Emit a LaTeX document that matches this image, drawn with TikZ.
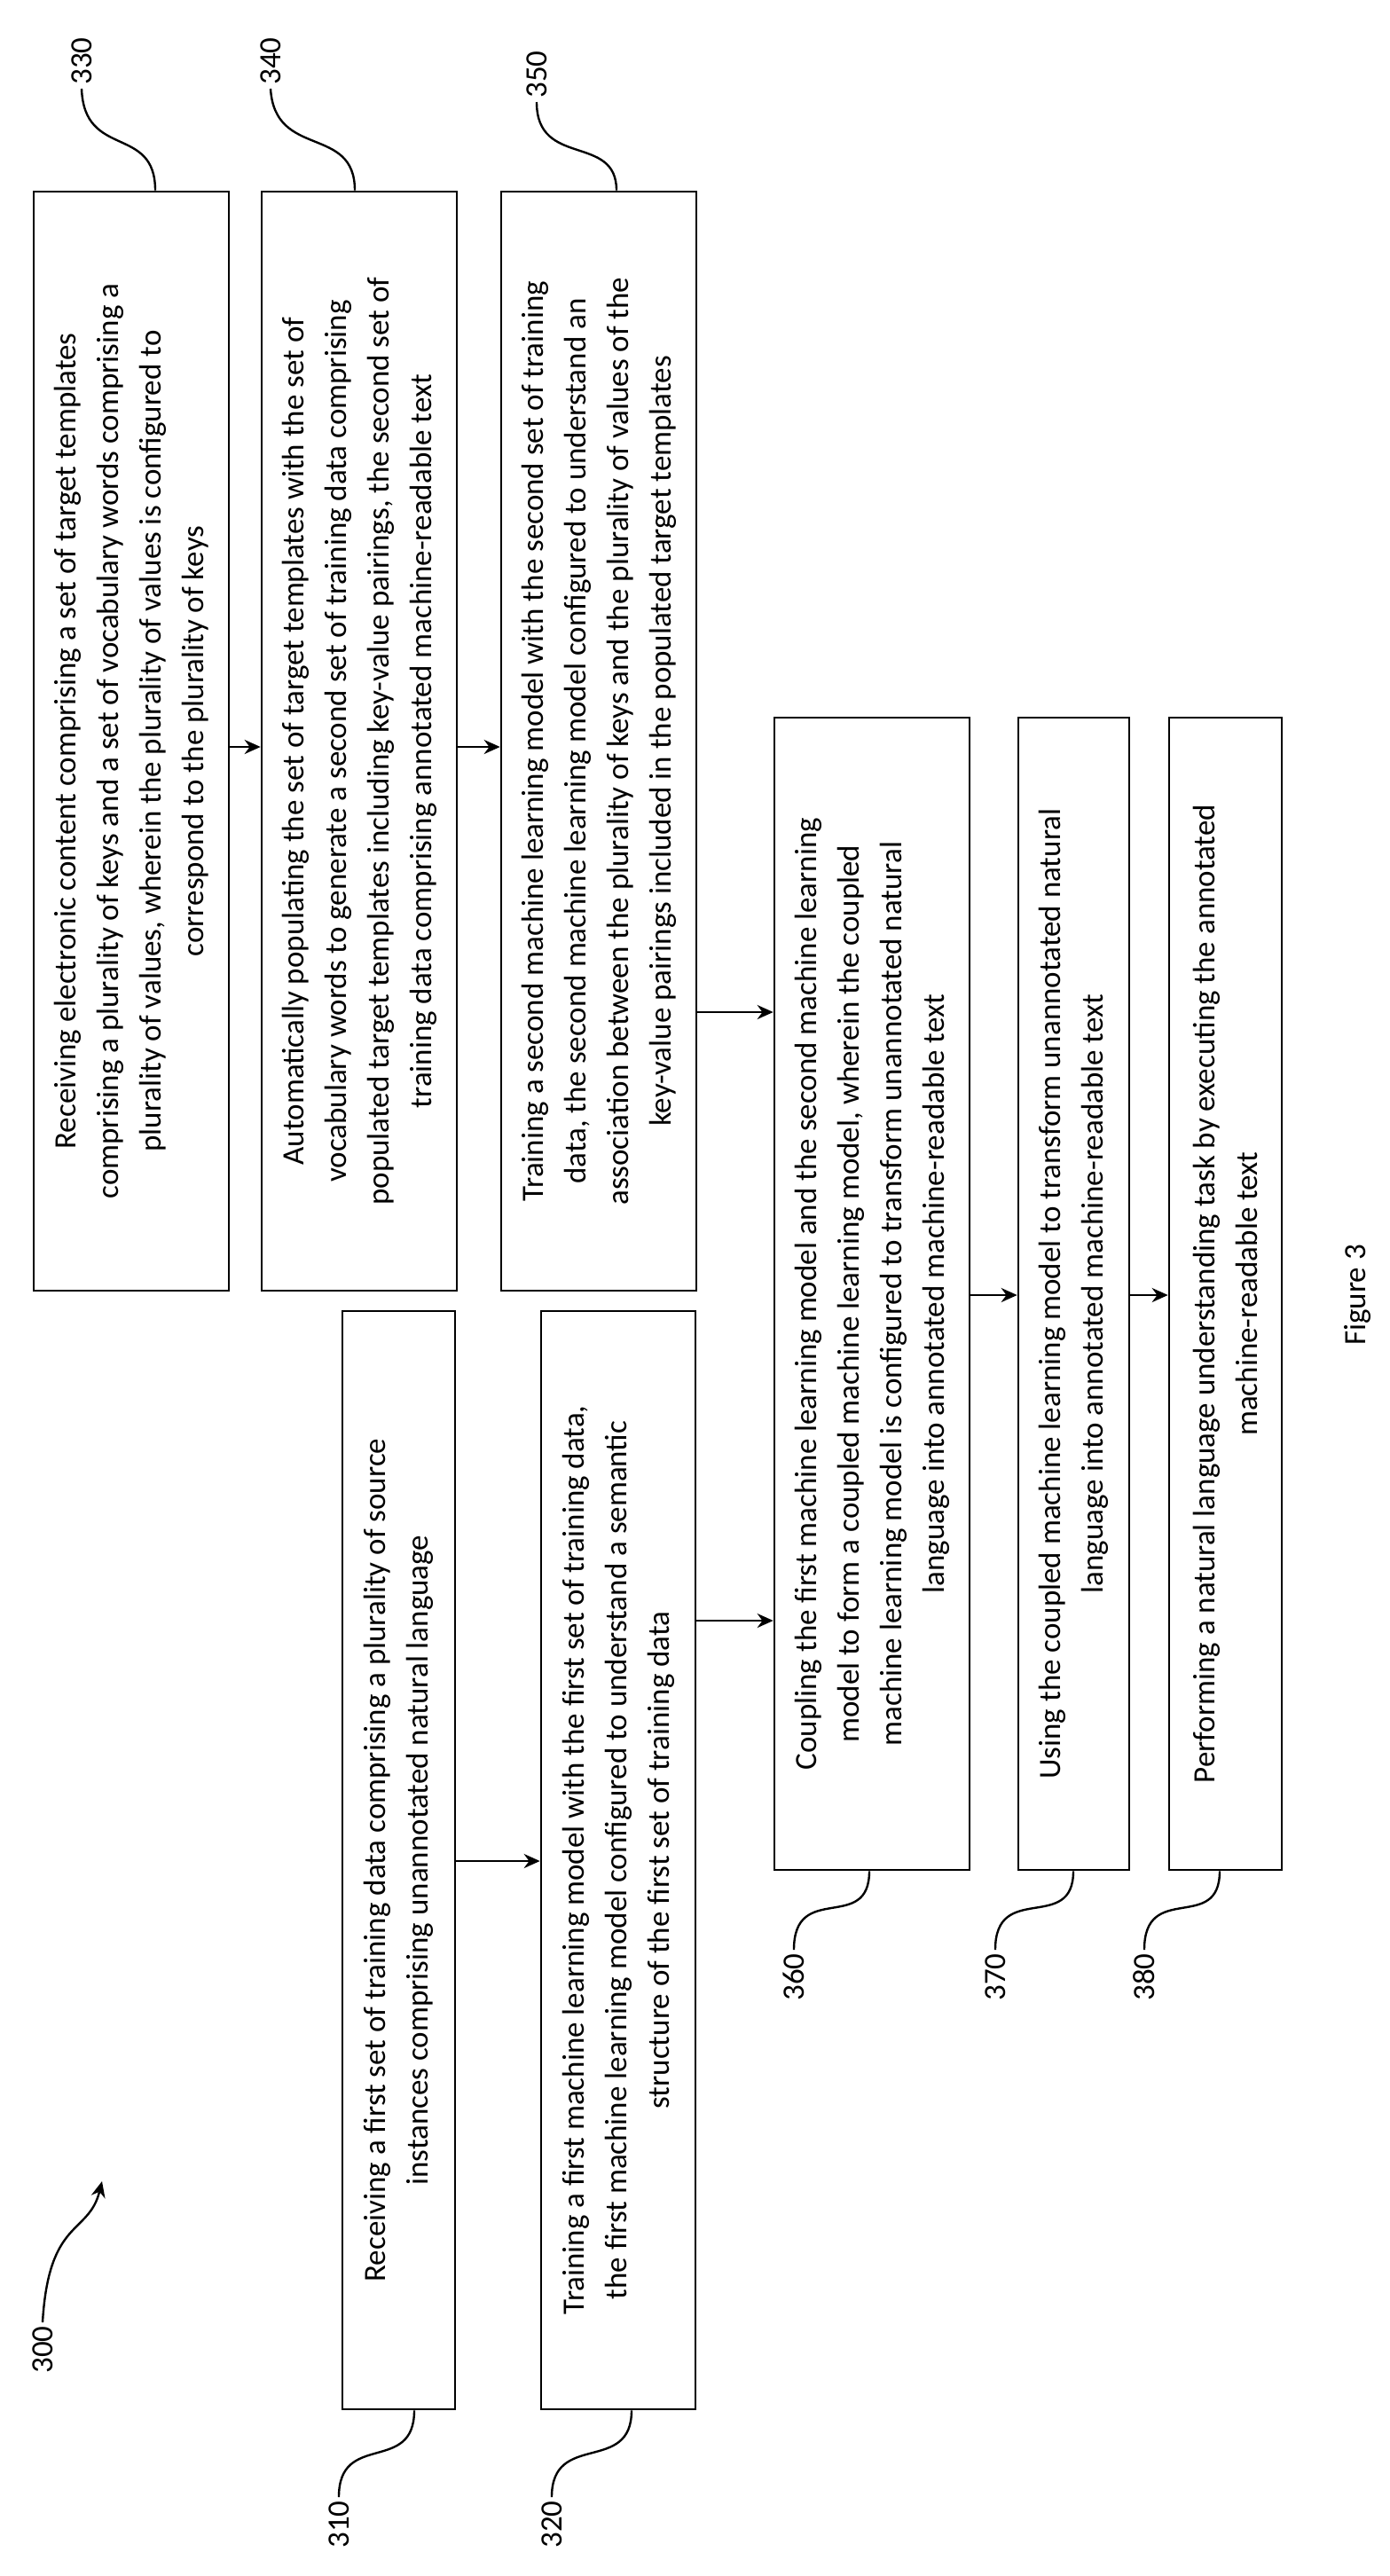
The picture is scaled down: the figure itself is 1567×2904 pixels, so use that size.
\documentclass[tikz,border=0pt]{standalone}
\usepackage{fontspec}
\setmainfont{Carlito}
\usetikzlibrary{arrows.meta}
\begin{document}
\begin{tikzpicture}[x=0.5pt,y=-0.5pt,
  box/.style={draw,line width=1.3pt,rotate=90,inner sep=0pt,align=center,font=\fontsize{17.5}{24}\selectfont},
  lab/.style={rotate=90,inner sep=2pt,font=\fontsize{17.5}{21}\selectfont},
  arr/.style={line width=1.3pt,-{Stealth[length=9pt,width=8pt]}},
  lead/.style={line width=1.2pt}]
\useasboundingbox (0,0) rectangle (1567,2904);
% boxes
\node[box,minimum width=619.5pt,minimum height=110pt] (n330) at (148,835.5) {Receiving electronic content comprising a set of target templates\\comprising a plurality of keys and a set of vocabulary words comprising a\\plurality of values, wherein the plurality of values is configured to\\correspond to the plurality of keys};
\node[box,minimum width=619.5pt,minimum height=110pt] (n340) at (405,835.5) {Automatically populating the set of target templates with the set of\\vocabulary words to generate a second set of training data comprising\\populated target templates including key-value pairings, the second set of\\training data comprising annotated machine-readable text};
\node[box,minimum width=619.5pt,minimum height=110pt] (n350) at (675,835.5) {Training a second machine learning model with the second set of training\\data, the second machine learning model configured to understand an\\association between the plurality of keys and the plurality of values of the\\key-value pairings included in the populated target templates};
\node[box,minimum width=619pt,minimum height=63.5pt] (n310) at (449.5,2097) {Receiving a first set of training data comprising a plurality of source\\instances comprising unannotated natural language};
\node[box,minimum width=619pt,minimum height=87pt] (n320) at (697,2097) {Training a first machine learning model with the first set of training data,\\the first machine learning model configured to understand a semantic\\structure of the first set of training data};
\node[box,minimum width=649.5pt,minimum height=110pt] (n360) at (983,1458.5) {Coupling the first machine learning model and the second machine learning\\model to form a coupled machine learning model, wherein the coupled\\machine learning model is configured to transform unannotated natural\\language into annotated machine-readable text};
\node[box,minimum width=649.5pt,minimum height=62.5pt] (n370) at (1210.5,1458.5) {Using the coupled machine learning model to transform unannotated natural\\language into annotated machine-readable text};
\node[box,minimum width=649.5pt,minimum height=63.5pt] (n380) at (1381.5,1458.5) {Performing a natural language understanding task by executing the annotated\\machine-readable text};
% arrows
\draw[arr] (n330.south |- 0,842) -- (n340.north |- 0,842);
\draw[arr] (n340.south |- 0,842) -- (n350.north |- 0,842);
\draw[arr] (n350.south |- 0,1141) -- (n360.north |- 0,1141);
\draw[arr] (n310.south |- 0,2098) -- (n320.north |- 0,2098);
\draw[arr] (n320.south |- 0,1827) -- (n360.north |- 0,1827);
\draw[arr] (n360.south |- 0,1460) -- (n370.north |- 0,1460);
\draw[arr] (n370.south |- 0,1460) -- (n380.north |- 0,1460);
% labels
\node[lab,anchor=west] (l330) at (92,100) {330};
\node[lab,anchor=west] (l340) at (305,100) {340};
\node[lab,anchor=west] (l350) at (605,115) {350};
\node[lab,anchor=east] (l310) at (382,2815) {310};
\node[lab,anchor=east] (l320) at (622,2815) {320};
\node[lab,anchor=east] (l360) at (895,2198) {360};
\node[lab,anchor=east] (l370) at (1122,2198) {370};
\node[lab,anchor=east] (l380) at (1290,2198) {380};
\node[lab,anchor=east] (l300) at (48,2618) {300};
\node[lab] (fig) at (1530,1460) {Figure 3};
\coordinate (t300) at (115,2459);
% leaders
\draw[lead] (n330.east -| 175,0) .. controls (175,140) and (95,180) .. (l330.west);
\draw[lead] (n340.east -| 400,0) .. controls (400,140) and (310,180) .. (l340.west);
\draw[lead] (n350.east -| 695,0) .. controls (695,150) and (605,190) .. (l350.west);
\draw[lead] (n310.west -| 467,0) .. controls (467,2790) and (382,2740) .. (l310.east);
\draw[lead] (n320.west -| 712,0) .. controls (712,2790) and (622,2740) .. (l320.east);
\draw[lead] (n360.west -| 980,0) .. controls (980,2180) and (895,2120) .. (l360.east);
\draw[lead] (n370.west -| 1210,0) .. controls (1210,2180) and (1122,2120) .. (l370.east);
\draw[lead] (n380.west -| 1375,0) .. controls (1375,2180) and (1290,2120) .. (l380.east);
\draw[lead,-{Stealth[length=9pt,width=8pt]}] (l300.east) .. controls (55,2500) and (100,2520) .. (t300);
\end{tikzpicture}
\end{document}
